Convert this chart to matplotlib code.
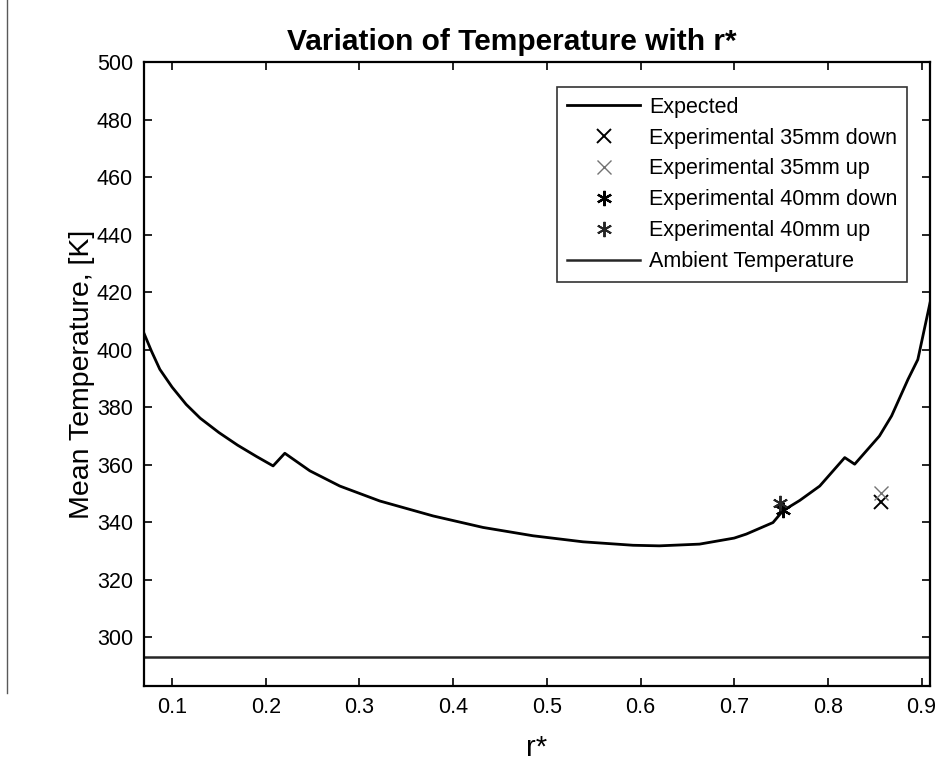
import matplotlib
matplotlib.use("Agg")
import matplotlib.pyplot as plt
from matplotlib.lines import Line2D

plt.rcParams['font.family'] = ['Liberation Sans', 'DejaVu Sans']

# ---- data ----
r_expected = [0.069, 0.078, 0.0869, 0.100, 0.115, 0.130, 0.150, 0.170, 0.190, 0.2078,
              0.2203, 0.247, 0.279, 0.3217, 0.3786, 0.4319, 0.4853, 0.5386, 0.592,
              0.620, 0.6418, 0.663, 0.700, 0.713, 0.7414, 0.752, 0.770, 0.7913, 0.818,
              0.8286, 0.855, 0.868, 0.8855, 0.896, 0.909]
T_expected = [406.5, 399.5, 393.2, 387.0, 381.0, 376.2, 371.2, 366.8, 362.9, 359.6,
              364.0, 357.9, 352.6, 347.4, 342.2, 338.2, 335.3, 333.2, 332.0,
              331.8, 332.1, 332.4, 334.5, 335.9, 339.9, 344.0, 347.6, 352.6, 362.5,
              360.2, 370.0, 377.0, 389.7, 396.6, 416.3]

r_35_down = [0.857]
T_35_down = [346.9]
r_35_up = [0.857]
T_35_up = [350.3]
r_40_down = [0.752]
T_40_down = [344.2]
r_40_up = [0.749]
T_40_up = [346.8]

T_ambient = 293.15

x_ticks = [0.1, 0.2, 0.3, 0.4, 0.5, 0.6, 0.7, 0.8, 0.9]
y_ticks = [300, 320, 340, 360, 380, 400, 420, 440, 460, 480, 500]

# ---- figure ----
fig = plt.figure(figsize=(9.4, 7.65), dpi=100)
ax = fig.add_axes([144/940, 1-685.7/765, (930-144)/940, (685.7-62.3)/765])

ax.plot(r_expected, T_expected, color='black', lw=2.0, label='Expected', zorder=3)
ax.plot(r_35_down, T_35_down, ls='none', marker='x', ms=10, mew=1.4, color='black',
        label='Experimental 35mm down', zorder=4)
ax.plot(r_35_up, T_35_up, ls='none', marker='x', ms=10, mew=1.0, color='0.45',
        label='Experimental 35mm up', zorder=4)
ax.plot(r_40_down, T_40_down, ls='none', marker=(6, 2, 0), ms=11, mew=1.6, color='black',
        label='Experimental 40mm down', zorder=4)
ax.plot(r_40_up, T_40_up, ls='none', marker=(6, 2, 0), ms=11, mew=1.4, color='0.15',
        label='Experimental 40mm up', zorder=4)
ax.axhline(T_ambient, color='0.15', lw=1.8, label='Ambient Temperature', zorder=2)

ax.set_xlim(0.07, 0.909)
ax.set_ylim(283.15, 500)
ax.set_xticks(x_ticks)
ax.set_xticklabels([f"{v:g}" for v in x_ticks])
ax.set_yticks(y_ticks)

ax.tick_params(direction='in', length=6, width=1.2, top=True, right=True,
               labelsize=15.5, pad=8, colors='black')
for s in ax.spines.values():
    s.set_linewidth(1.6)
    s.set_color('black')

ax.set_title('Variation of Temperature with r*', fontsize=21.5, fontweight='bold',
             pad=9, x=0.468)
ax.set_xlabel('r*', fontsize=21, labelpad=12)
ax.set_ylabel('Mean Temperature, [K]', fontsize=20.5, labelpad=1)

leg = ax.legend(loc='upper right', bbox_to_anchor=((907-144)/786, (685.7-87)/623.4),
                borderaxespad=0.0,
                fontsize=15.5, frameon=True, fancybox=False, edgecolor='black',
                handlelength=3.4, labelspacing=0.46, borderpad=0.45, handletextpad=0.4)
leg.get_frame().set_linewidth(1.2)

# scanned page edge on the left
fig.add_artist(Line2D([7/940, 7/940], [1-0/765, 1-693/765], color='0.35', lw=1.0,
                      transform=fig.transFigure))

fig.savefig('out.png', dpi=100, facecolor='white')
